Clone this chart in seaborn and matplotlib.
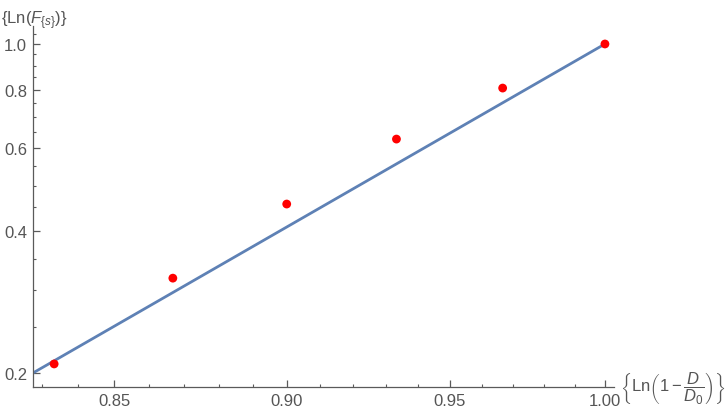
import matplotlib
matplotlib.use("Agg")
import matplotlib.pyplot as plt
import matplotlib.ticker as mticker
import numpy as np
import pandas as pd
import seaborn as sns

# data (log-log axes)
x_vals = [0.8333, 0.8667, 0.9000, 0.9333, 0.9667, 1.0000]
y_vals = [0.209, 0.318, 0.457, 0.628, 0.806, 1.000]

# fitted power law y = x ** fit_exponent, drawn across the x range
fit_exponent = 8.5
fit_x = [0.8274, 1.0]

x_major = [0.85, 0.90, 0.95, 1.00]
x_major_labels = ["0.85", "0.90", "0.95", "1.00"]
x_minor = [0.83, 0.84, 0.86, 0.87, 0.88, 0.89, 0.91, 0.92, 0.93, 0.94,
           0.96, 0.97, 0.98, 0.99]
y_major = [0.2, 0.4, 0.6, 0.8, 1.0]
y_major_labels = ["0.2", "0.4", "0.6", "0.8", "1.0"]
y_minor = [0.25, 0.30, 0.35, 0.45, 0.50, 0.55, 0.65, 0.70, 0.75,
           0.85, 0.90, 0.95, 1.05]

sns.set_style("white")
plt.rcParams["font.family"] = ["Liberation Sans", "DejaVu Sans"]
plt.rcParams["mathtext.fontset"] = "custom"
plt.rcParams["mathtext.rm"] = "Liberation Sans"
plt.rcParams["mathtext.it"] = "Liberation Sans:italic"
plt.rcParams["mathtext.bf"] = "Liberation Sans:bold"

gray = "#5a5a5a"
pts = pd.DataFrame({"x": x_vals, "y": y_vals})
fit = pd.DataFrame({"x": fit_x})
fit["y"] = fit["x"] ** fit_exponent

fig = plt.figure(figsize=(7.28, 4.14), dpi=100)
ax = fig.add_axes([0.0449, 0.0628, 0.7985, 0.872])

sns.lineplot(data=fit, x="x", y="y", ax=ax, color="#5E81B5", linewidth=2.0, zorder=2)
sns.scatterplot(data=pts, x="x", y="y", ax=ax, color="#FF0000", s=40,
                edgecolor="none", zorder=3)

ax.set_xscale("log")
ax.set_yscale("log")
ax.set_xlim(0.8274, 1.003)
ax.set_ylim(0.1867, 1.092)

ax.xaxis.set_major_locator(mticker.FixedLocator(x_major))
ax.xaxis.set_major_formatter(mticker.FixedFormatter(x_major_labels))
ax.xaxis.set_minor_locator(mticker.FixedLocator(x_minor))
ax.xaxis.set_minor_formatter(mticker.NullFormatter())
ax.yaxis.set_major_locator(mticker.FixedLocator(y_major))
ax.yaxis.set_major_formatter(mticker.FixedFormatter(y_major_labels))
ax.yaxis.set_minor_locator(mticker.FixedLocator(y_minor))
ax.yaxis.set_minor_formatter(mticker.NullFormatter())

for s in ["top", "right"]:
    ax.spines[s].set_visible(False)
for s in ["left", "bottom"]:
    ax.spines[s].set_color(gray)
    ax.spines[s].set_linewidth(0.9)

ax.tick_params(which="major", direction="in", length=5, width=0.9, color=gray,
               labelcolor="#555555", labelsize=12, pad=4)
ax.tick_params(which="minor", direction="in", length=2.5, width=0.8, color=gray)
ax.tick_params(axis="x", which="both", bottom=True)
ax.tick_params(axis="y", which="both", left=True)

ax.set_xlabel("")
ax.set_ylabel("")

fig.text(0.002, 0.978, r"$\{\mathrm{Ln}(F_{\{s\}})\}$", ha="left", va="top",
         fontsize=12, color="#555555")
fig.text(0.851, 0.0628, r"$\left\{\mathrm{Ln}\left(1-\dfrac{D}{D_0}\right)\right\}$",
         ha="left", va="center", fontsize=12, color="#555555")

fig.savefig("out.png", dpi=100)
